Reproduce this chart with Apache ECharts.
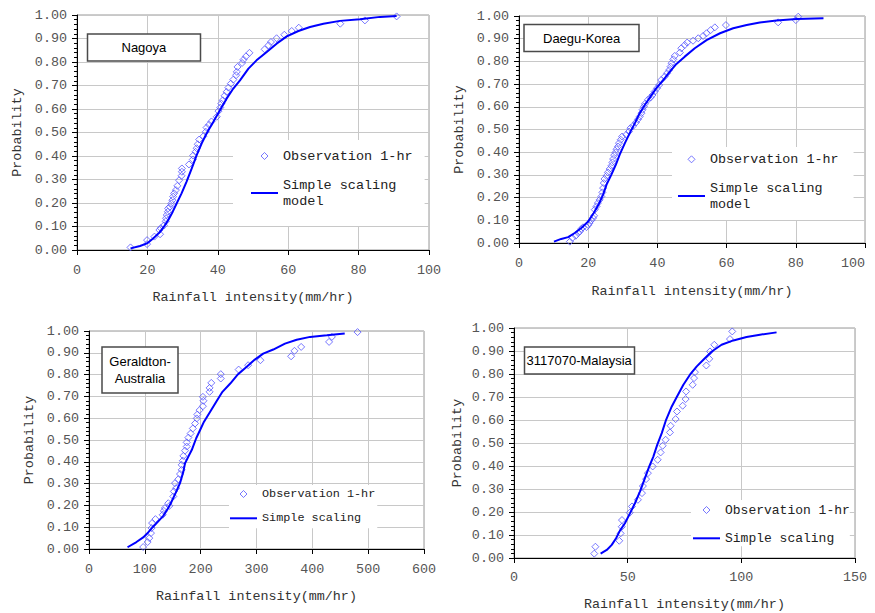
<!DOCTYPE html>
<html>
<head>
<meta charset="utf-8">
<script src="https://cdn.jsdelivr.net/npm/echarts@6/dist/echarts.min.js"></script>
<style>html,body{margin:0;padding:0;background:#fff;}#c{width:875px;height:613px;}</style>
</head>
<body>
<div id="c"></div>
<script>
// ---------- data ----------
const panelTitles = ['Nagoya', 'Daegu-Korea', 'Geraldton-\nAustralia', '3117070-Malaysia'];
const obsName = 'Observation 1-hr';
const modelNames = ['Simple scaling model', 'Simple scaling model', 'Simple scaling', 'Simple scaling'];
const xAxisName = 'Rainfall intensity(mm/hr)';
const yAxisName = 'Probability';
const xRanges = [[0, 100, 20], [0, 100, 20], [0, 600, 100], [0, 150, 50]];
const yRange = [0, 1, 0.1];

const nagoyaObs = [[15.2,0.011],[19.9,0.025],[19.9,0.042],[22.0,0.057],[23.6,0.067],[23.4,0.085],[23.8,0.093],[24.7,0.105],[25.2,0.122],[25.3,0.135],[25.5,0.149],[25.8,0.163],[25.9,0.177],[26.4,0.184],[26.8,0.198],[27.1,0.212],[27.3,0.227],[27.6,0.241],[28.1,0.255],[28.5,0.273],[29.0,0.297],[29.7,0.316],[29.8,0.333],[29.8,0.347],[31.8,0.364],[32.9,0.385],[33.0,0.402],[33.7,0.418],[34.0,0.433],[34.3,0.450],[34.7,0.470],[35.9,0.484],[36.6,0.503],[36.8,0.521],[37.5,0.533],[38.2,0.547],[39.7,0.567],[40.2,0.591],[40.7,0.606],[41.0,0.623],[41.4,0.637],[41.9,0.656],[42.5,0.673],[43.0,0.691],[43.7,0.708],[44.4,0.725],[45.2,0.744],[45.4,0.758],[45.6,0.779],[46.9,0.796],[47.3,0.810],[48.0,0.824],[49.0,0.839],[53.3,0.854],[54.4,0.871],[55.1,0.885],[56.7,0.901],[58.9,0.916],[61.0,0.932],[63.0,0.946],[74.8,0.963],[81.8,0.977],[90.8,0.994]];
const nagoyaModel = [[15.2,0.007],[17.9,0.017],[19.9,0.028],[21.7,0.05],[23.4,0.074],[24.7,0.099],[25.9,0.127],[27.2,0.163],[28.3,0.198],[29.7,0.241],[31.1,0.29],[32.6,0.347],[34.0,0.404],[35.4,0.453],[36.8,0.496],[38.7,0.545],[40.6,0.595],[42.5,0.644],[44.4,0.687],[46.3,0.722],[48.7,0.772],[51.0,0.807],[53.9,0.843],[56.7,0.878],[59.6,0.909],[62.9,0.932],[66.2,0.949],[70.0,0.963],[74.7,0.975],[80.4,0.982],[86.1,0.992],[90.8,0.996]];

const daeguObs = [[14.7,0.006],[15.4,0.022],[16.4,0.032],[17.1,0.044],[17.6,0.051],[18.0,0.062],[18.5,0.069],[19.5,0.07],[20.0,0.079],[20.4,0.088],[20.9,0.1],[21.4,0.11],[21.7,0.12],[21.9,0.147],[22.4,0.161],[22.8,0.176],[23.3,0.19],[23.8,0.205],[24.1,0.223],[24.3,0.242],[24.5,0.264],[24.7,0.282],[25.3,0.296],[25.7,0.311],[26.2,0.326],[26.7,0.34],[27.0,0.355],[27.2,0.37],[27.5,0.387],[27.9,0.399],[28.2,0.413],[28.6,0.425],[28.9,0.44],[29.4,0.455],[29.8,0.469],[31.0,0.477],[31.8,0.491],[32.2,0.506],[33.0,0.516],[33.8,0.531],[34.4,0.545],[34.9,0.557],[35.4,0.572],[35.7,0.587],[36.1,0.601],[36.4,0.613],[37.3,0.631],[38.0,0.641],[38.6,0.652],[39.2,0.667],[39.9,0.682],[40.5,0.696],[41.1,0.718],[42.1,0.733],[42.8,0.748],[43.4,0.762],[43.8,0.777],[44.1,0.792],[44.6,0.809],[45.0,0.824],[46.5,0.839],[46.9,0.858],[47.9,0.872],[48.6,0.883],[50.3,0.891],[51.8,0.902],[53.2,0.912],[54.2,0.924],[55.4,0.938],[56.6,0.95],[59.8,0.96],[74.9,0.972],[80.0,0.982],[80.7,0.997]];
const daeguModel = [[10.1,0.006],[12.2,0.018],[14.2,0.026],[16.1,0.044],[18.0,0.066],[20.0,0.095],[21.6,0.132],[23.1,0.173],[24.3,0.213],[25.3,0.257],[26.7,0.301],[28.0,0.345],[29.1,0.389],[30.6,0.44],[32.0,0.484],[33.5,0.528],[34.9,0.572],[36.4,0.609],[38.0,0.645],[39.7,0.682],[41.7,0.718],[43.6,0.755],[45.5,0.789],[47.9,0.821],[50.8,0.858],[54.2,0.894],[58.1,0.924],[61.9,0.946],[65.8,0.96],[69.6,0.971],[74.4,0.98],[80.2,0.987],[88.0,0.99]];

const geraldtonObs = [[97,0.009],[105,0.032],[108,0.05],[111,0.073],[112,0.096],[113,0.119],[119,0.137],[132,0.157],[134,0.175],[136,0.188],[144,0.198],[142,0.21],[151,0.241],[156,0.279],[152,0.264],[154,0.302],[160,0.32],[163,0.344],[166,0.363],[166,0.386],[168,0.405],[169,0.427],[172,0.451],[175,0.47],[175,0.489],[178,0.511],[182,0.53],[186,0.553],[190,0.576],[193,0.599],[194,0.617],[198,0.637],[204,0.655],[205,0.68],[204,0.698],[216,0.721],[216,0.739],[219,0.762],[236,0.782],[236,0.802],[268,0.823],[285,0.843],[307,0.866],[362,0.884],[368,0.909],[380,0.927],[430,0.95],[435,0.973],[481,0.995]];
const geraldtonModel = [[69,0.008],[85,0.032],[97,0.053],[106,0.076],[114,0.1],[124,0.127],[133,0.152],[142,0.188],[148,0.218],[155,0.256],[163,0.302],[169,0.355],[172,0.393],[178,0.424],[184,0.454],[192,0.508],[199,0.546],[206,0.584],[217,0.63],[229,0.68],[239,0.721],[253,0.759],[267,0.802],[282,0.835],[297,0.869],[312,0.896],[330,0.915],[351,0.942],[372,0.96],[396,0.973],[426,0.98],[458,0.989]];

const malaysiaObs = [[35.3,0.019],[35.8,0.049],[46.3,0.075],[46.9,0.107],[47.4,0.136],[47.5,0.165],[50.9,0.197],[51.9,0.224],[54.5,0.253],[56.3,0.282],[56.7,0.313],[58.1,0.343],[58.9,0.369],[61.0,0.398],[63.2,0.427],[64.5,0.459],[65.4,0.488],[66.7,0.514],[68.6,0.546],[68.9,0.575],[71.1,0.604],[71.7,0.637],[74.2,0.662],[75.5,0.691],[75.7,0.724],[78.6,0.753],[79.2,0.782],[79.6,0.808],[84.6,0.837],[85.9,0.866],[86.2,0.898],[88.1,0.927],[95.0,0.952],[96.0,0.985]];
const malaysiaModel = [[38.1,0.019],[40.8,0.035],[43.0,0.057],[44.9,0.086],[46.6,0.119],[48.8,0.151],[51.0,0.194],[53.2,0.238],[55.4,0.289],[57.6,0.347],[59.5,0.398],[61.3,0.441],[63.0,0.492],[65.0,0.543],[66.9,0.601],[69.4,0.659],[71.6,0.70],[74.5,0.753],[77.4,0.797],[80.4,0.833],[83.3,0.862],[87.0,0.898],[91.3,0.927],[96.5,0.946],[102.3,0.961],[108.2,0.971],[115.5,0.981]];

const obsData = [nagoyaObs, daeguObs, geraldtonObs, malaysiaObs];
const modelData = [nagoyaModel, daeguModel, geraldtonModel, malaysiaModel];

// ---------- layout / style ----------
const MONO = '"Liberation Mono", "DejaVu Sans Mono", monospace';
const SANS = '"Liberation Sans", Arial, sans-serif';
const OBS_COLOR = '#5555ff';
const LINE_COLOR = '#0000ff';
const grids = [
  {left: 77, top: 15, width: 352, height: 235},
  {left: 519, top: 16, width: 346, height: 227},
  {left: 89, top: 331, width: 335, height: 218},
  {left: 514, top: 328, width: 341, height: 230}
];
const xLabelMargin = [14, 14, 14, 13];
const xMaxLabelAlign = [null, 'right', null, null];
const xNameGap = [41, 41.5, 40.5, 40];
const yNameGap = [53, 53, 53.5, 50];

const titles = [
  {text: panelTitles[0], left: 87, top: 34, padding: [6, 34.5], lh: 15},
  {text: panelTitles[1], left: 524, top: 24, padding: [6.5, 19], lh: 15},
  {text: panelTitles[2], left: 132.5, top: 347, padding: [6, 7.5], lh: 17, textAlign: 'center'},
  {text: panelTitles[3], left: 524, top: 347, padding: [6, 2.5], lh: 15}
];

const legends = [
  {left: 233, top: 140, padding: [8, 12, 9, 18], gap: 5, fs: 13.5, multi: true},
  {left: 672, top: 147, padding: [4.3, 15, 0, 6], gap: 4.7, fs: 13.4, multi: true},
  {left: 229, top: 485, padding: [1, 2, 2, 1], gap: 8.3, fs: 11.8, multi: false},
  {left: 691, top: 500, padding: [2, 0, 0, 2], gap: 12.3, fs: 13, multi: false}
];

const DIAMOND_ICON = 'path://M5,0L10,5L5,10L0,5Z';
const LINE_ICON = 'path://M0,0H27V2H0Z';

const option = {
  animation: false,
  backgroundColor: '#fff',
  title: titles.map(t => {
    const o = {
      text: t.text, left: t.left, top: t.top, padding: t.padding,
      backgroundColor: '#fff', borderColor: '#4a4a4a', borderWidth: 1.5,
      textStyle: {fontFamily: SANS, fontSize: 13, fontWeight: 'normal', color: '#000', lineHeight: t.lh}
    };
    if (t.textAlign) o.textAlign = t.textAlign;
    return o;
  }),
  legend: legends.map((l, i) => ({
    orient: 'vertical', left: l.left, top: l.top, padding: l.padding,
    backgroundColor: '#fff', itemGap: l.gap, itemWidth: 27, itemHeight: 7,
    selectedMode: false, symbolKeepAspect: true,
    textStyle: {fontFamily: MONO, fontSize: l.fs, lineHeight: 16, color: '#222'},
    data: [
      {name: obsName, icon: DIAMOND_ICON,
       itemStyle: {color: 'rgba(255,255,255,0)', borderColor: OBS_COLOR, borderWidth: 1}},
      Object.assign(
        {name: modelNames[i], icon: LINE_ICON, itemStyle: {color: LINE_COLOR, borderWidth: 0}},
        l.multi ? {textStyle: {padding: [16, 0, 0, 0], backgroundColor: 'rgba(255,255,255,0)'}} : {}
      )
    ],
    formatter: name => (name === 'Simple scaling model' ? 'Simple scaling\nmodel' : name)
  })),
  grid: grids.map(g => ({
    left: g.left, top: g.top, width: g.width, height: g.height,
    show: true, borderColor: '#999', borderWidth: 1, backgroundColor: 'rgba(0,0,0,0)',
    containLabel: false, outerBoundsMode: 'none'
  })),
  xAxis: xRanges.map((r, i) => {
    const label = {show: true, margin: xLabelMargin[i], fontFamily: MONO, fontSize: 13.4, color: '#555', showMinLabel: true, showMaxLabel: true, hideOverlap: false};
    if (xMaxLabelAlign[i]) label.alignMaxLabel = xMaxLabelAlign[i];
    return {
      type: 'value', gridIndex: i, min: r[0], max: r[1], interval: r[2],
      name: xAxisName, nameLocation: 'middle', nameGap: xNameGap[i], nameMoveOverlap: false,
      nameTextStyle: {fontFamily: MONO, fontSize: 13.4, color: '#333'},
      axisLine: {show: true, onZero: false, lineStyle: {color: '#000', width: 1}},
      axisTick: {show: true, inside: false, length: 5, lineStyle: {color: '#000'}},
      axisLabel: label,
      splitLine: {show: true, lineStyle: {color: '#c8c8c8', width: 1}},
      minorTick: {show: false}
    };
  }),
  yAxis: xRanges.map((r, i) => ({
    type: 'value', gridIndex: i, min: yRange[0], max: yRange[1], interval: yRange[2],
    name: yAxisName, nameLocation: 'middle', nameGap: yNameGap[i], nameRotate: 90, nameMoveOverlap: false,
    nameTextStyle: {fontFamily: MONO, fontSize: 13.4, color: '#333'},
    axisLine: {show: true, onZero: false, lineStyle: {color: '#000', width: 1}},
    axisTick: {show: true, inside: false, length: 5, lineStyle: {color: '#000'}},
    minorTick: {show: true, splitNumber: 5, length: 3, lineStyle: {color: '#000'}},
    axisLabel: {show: true, margin: 10, fontFamily: MONO, fontSize: 13.4, color: '#555', formatter: v => v.toFixed(2), showMinLabel: true, showMaxLabel: true, hideOverlap: false},
    splitLine: {show: true, lineStyle: {color: '#c8c8c8', width: 1}}
  })),
  series: []
};

for (let i = 0; i < 4; i++) {
  option.series.push({
    type: 'scatter', name: obsName, xAxisIndex: i, yAxisIndex: i,
    data: obsData[i], symbol: 'diamond', symbolSize: 7,
    itemStyle: {color: 'rgba(255,255,255,0)', borderColor: OBS_COLOR, borderWidth: 1},
    emphasis: {disabled: true}, z: 2
  });
  option.series.push({
    type: 'line', name: modelNames[i], xAxisIndex: i, yAxisIndex: i,
    data: modelData[i], symbol: 'none', smooth: false,
    lineStyle: {color: LINE_COLOR, width: 2}, itemStyle: {color: LINE_COLOR},
    emphasis: {disabled: true}, z: 3
  });
}

const chart = echarts.init(document.getElementById('c'), null, {renderer: 'svg'});
chart.setOption(option);
</script>
</body>
</html>
